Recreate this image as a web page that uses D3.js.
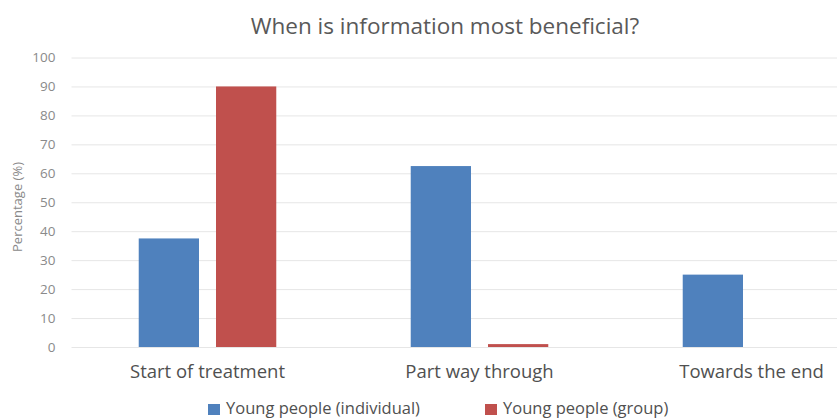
<!DOCTYPE html>
<html>
<head>
<meta charset="utf-8">
<script src="https://cdn.jsdelivr.net/npm/d3@7/dist/d3.min.js"></script>
<style>
  html, body { margin: 0; padding: 0; background: #fff; }
  svg { display: block; font-family: "Open Sans", "Noto Sans", sans-serif; }
</style>
</head>
<body>
<svg id="chart" width="837" height="419"></svg>
<script>
// Survey data: share of respondents by timing of information
const categories = ["Start of treatment", "Part way through", "Towards the end"];
const seriesNames = ["Young people (individual)", "Young people (group)"];
const individualValues = [37.5, 62.5, 25];
const groupValues = [90, 1, 0];
const yTicks = [0, 10, 20, 30, 40, 50, 60, 70, 80, 90, 100];
const colors = ["#4F81BD", "#C0504D"];

const svg = d3.select("#chart");
const W = 837, H = 419;

// plot area (extends past the right edge of the canvas)
const plotLeft = 71.5, plotRight = 887.5, plotTop = 57.5, plotBottom = 347;

const x = d3.scaleBand().domain(categories).range([plotLeft, plotRight]).paddingInner(0).paddingOuter(0);
const xInner = d3.scaleBand().domain(seriesNames).range([0, x.bandwidth()]).paddingInner(0.22).paddingOuter(0.87);
const y = d3.scaleLinear().domain([0, 100]).range([plotBottom, plotTop]);

// title
svg.append("text")
  .attr("x", 445).attr("y", 34)
  .attr("text-anchor", "middle")
  .attr("font-size", 22.5)
  .attr("fill", "#595959")
  .text("When is information most beneficial?");

// gridlines + y labels
const yAxis = d3.axisLeft(y).tickValues(yTicks).tickSize(-(W - plotLeft)).tickPadding(16);
const gy = svg.append("g").attr("transform", `translate(${plotLeft},0)`).call(yAxis);
gy.select(".domain").remove();
gy.selectAll(".tick line").attr("stroke", "#e6e6e6").attr("stroke-width", 1);
gy.selectAll(".tick text").attr("fill", "#8a8a8a").attr("font-size", 13.5)
  .attr("font-family", "\"Open Sans\", sans-serif");

// y axis title
svg.append("text")
  .attr("transform", `translate(22,207) rotate(-90)`)
  .attr("text-anchor", "middle")
  .attr("font-size", 13)
  .attr("fill", "#8a8a8a")
  .text("Percentage (%)");

// bars
const rows = categories.map((c, i) => ({ cat: c, vals: [individualValues[i], groupValues[i]] }));
const groups = svg.append("g").selectAll("g").data(rows).join("g")
  .attr("transform", d => `translate(${x(d.cat)},0)`);
groups.selectAll("rect")
  .data(d => d.vals.map((v, j) => ({ name: seriesNames[j], v, j })))
  .join("rect")
  .attr("x", d => xInner(d.name))
  .attr("width", xInner.bandwidth())
  .attr("y", d => y(d.v))
  .attr("height", d => y(0) - y(d.v))
  .attr("fill", d => colors[d.j]);

// x axis labels
const xAxis = d3.axisBottom(x).tickSize(0).tickPadding(18);
const gx = svg.append("g").attr("transform", `translate(0,${plotBottom})`).call(xAxis);
gx.select(".domain").remove();
gx.selectAll(".tick text").attr("fill", "#505050").attr("font-size", 18.5)
  .attr("font-family", "\"Open Sans\", sans-serif");

// legend
const legendItems = [{ x: 208, name: seriesNames[0], c: colors[0] }, { x: 485, name: seriesNames[1], c: colors[1] }];
const lg = svg.append("g");
legendItems.forEach(it => {
  lg.append("rect").attr("x", it.x).attr("y", 404).attr("width", 12).attr("height", 11).attr("fill", it.c);
  lg.append("text").attr("x", it.x + 18).attr("y", 414)
    .attr("font-size", 16.5).attr("fill", "#505050").text(it.name);
});
</script>
</body>
</html>
